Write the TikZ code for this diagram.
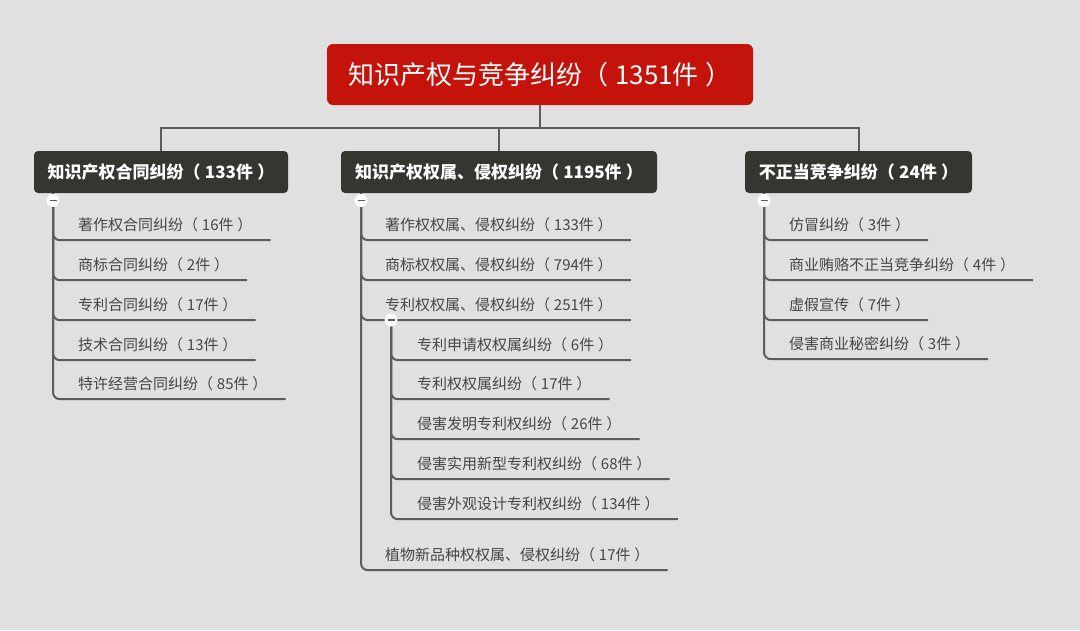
\documentclass[tikz,border=0pt]{standalone}
\usepackage{fontspec}
\setmainfont{Noto Sans CJK SC}
\usetikzlibrary{backgrounds}
\definecolor{bg}{HTML}{E0E0E0}
\definecolor{rootred}{HTML}{C3130A}
\definecolor{catdark}{HTML}{363631}
\definecolor{linegray}{HTML}{5C5C5C}
\definecolor{txtgray}{HTML}{464646}
\newcommand{\cnt}[1]{（\hspace{.25em}#1\hspace{.25em}）}
\begin{document}
\begin{tikzpicture}[x=1pt,y=-1pt,
  rootbox/.style={fill=rootred, rounded corners=6pt, text=white, font=\fontsize{26}{30}\selectfont, minimum width=426pt, minimum height=61pt, inner sep=0pt},
  catbox/.style={fill=catdark, rounded corners=4pt, text=white, font=\fontsize{17}{20}\selectfont\bfseries, minimum height=42pt, inner xsep=10pt},
  leaf/.style={anchor=west, inner sep=0pt, minimum height=30pt, text=txtgray, font=\fontsize{15}{18}\selectfont, execute at end node={\hspace*{18pt}}},
  knob/.style={circle, fill=white, minimum size=13pt, inner sep=0pt, path picture={\draw[linegray, line width=1.6pt] ([xshift=-3.5pt]path picture bounding box.center) -- ([xshift=3.5pt]path picture bounding box.center);}},
  wire/.style={draw=linegray, line width=2pt},
  branch/.style={wire, rounded corners=7pt}]
\useasboundingbox (0,0) rectangle (1080,630);

% root and categories
\node[rootbox] (root) at (540,74.5) {知识产权与竞争纠纷\cnt{1351件}};
\node[catbox, minimum width=254pt] (cat1) at (161,172) {知识产权合同纠纷\cnt{133件}};
\node[catbox, minimum width=316pt] (cat2) at (499,172) {知识产权权属、侵权纠纷\cnt{1195件}};
\node[catbox, minimum width=227pt] (cat3) at (858.5,172) {不正当竞争纠纷\cnt{24件}};

% knobs
\node[knob] (k1) at (53,200.5) {};
\node[knob] (k2) at (361,200.5) {};
\node[knob] (k3) at (764,200.5) {};
\node[knob] (ks) at (391,320) {};

% left leaves
\node[leaf] (l1) at (78,225) {著作权合同纠纷\cnt{16件}};
\node[leaf] (l2) at (78,265) {商标合同纠纷\cnt{2件}};
\node[leaf] (l3) at (78,305) {专利合同纠纷\cnt{17件}};
\node[leaf] (l4) at (78,345) {技术合同纠纷\cnt{13件}};
\node[leaf] (l5) at (78,384) {特许经营合同纠纷\cnt{85件}};

% middle leaves
\node[leaf] (m1) at (385,225) {著作权权属、侵权纠纷\cnt{133件}};
\node[leaf] (m2) at (385,265) {商标权权属、侵权纠纷\cnt{794件}};
\node[leaf] (m3) at (385,305) {专利权权属、侵权纠纷\cnt{251件}};
\node[leaf] (p1) at (417,345) {专利申请权权属纠纷\cnt{6件}};
\node[leaf] (p2) at (417,384) {专利权权属纠纷\cnt{17件}};
\node[leaf] (p3) at (417,424) {侵害发明专利权纠纷\cnt{26件}};
\node[leaf] (p4) at (417,464) {侵害实用新型专利权纠纷\cnt{68件}};
\node[leaf] (p5) at (417,504) {侵害外观设计专利权纠纷\cnt{134件}};
\node[leaf] (m4) at (385,555) {植物新品种权权属、侵权纠纷\cnt{17件}};

% right leaves
\node[leaf] (r1) at (789,225) {仿冒纠纷\cnt{3件}};
\node[leaf] (r2) at (789,265) {商业贿赂不正当竞争纠纷\cnt{4件}};
\node[leaf] (r3) at (789,305) {虚假宣传\cnt{7件}};
\node[leaf] (r4) at (789,344) {侵害商业秘密纠纷\cnt{3件}};

\begin{scope}[on background layer]
  \fill[bg] (0,0) rectangle (1080,630);
  \coordinate (bus) at (540,128);
  \draw[wire] (root.south) -- (bus);
  \draw[wire] (cat1.north) |- (bus) -| (cat3.north);
  \draw[wire] (cat2.north) -- (cat2.north |- bus);
  \draw[wire] (cat1.south -| k1) -- (k1.center);
  \draw[wire] (cat2.south -| k2) -- (k2.center);
  \draw[wire] (cat3.south -| k3) -- (k3.center);
  \foreach \n in {l1,l2,l3,l4,l5} \draw[branch] (k1.center) |- (\n.south east);
  \foreach \n in {m1,m2,m3,m4} \draw[branch] (k2.center) |- (\n.south east);
  \foreach \n in {p1,p2,p3,p4,p5} \draw[branch] (ks.center) |- (\n.south east);
  \foreach \n in {r1,r2,r3,r4} \draw[branch] (k3.center) |- (\n.south east);
\end{scope}
\end{tikzpicture}
\end{document}
